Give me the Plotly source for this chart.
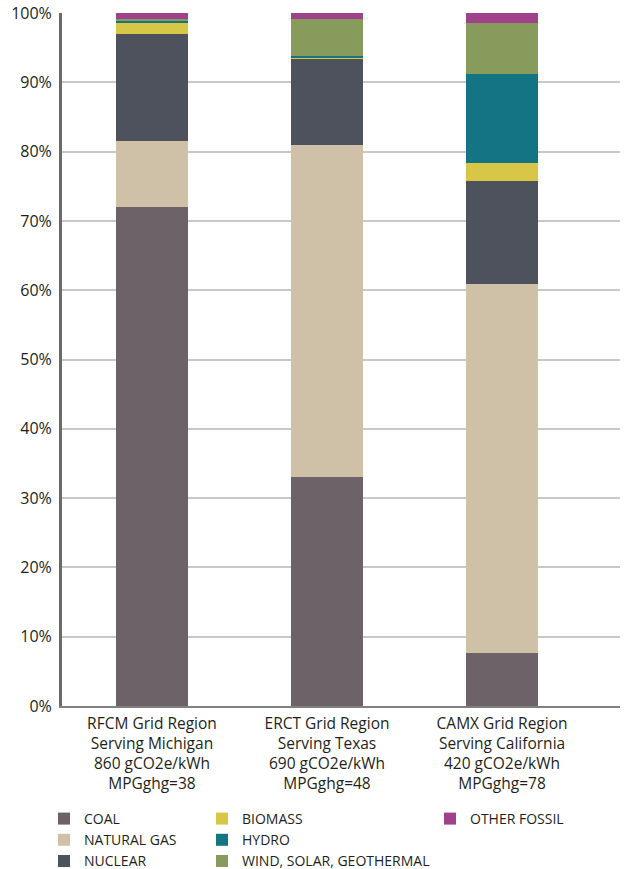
import plotly.graph_objects as go

regions = ["RFCM Grid Region<br>Serving Michigan<br>860 gCO2e/kWh<br>MPGghg=38",
           "ERCT Grid Region<br>Serving Texas<br>690 gCO2e/kWh<br>MPGghg=48",
           "CAMX Grid Region<br>Serving California<br>420 gCO2e/kWh<br>MPGghg=78"]

coal = [72.0, 33.1, 7.6]
natural_gas = [9.6, 47.8, 53.3]
nuclear = [15.4, 12.5, 14.9]
biomass = [1.7, 0.1, 2.6]
hydro = [0.1, 0.3, 12.8]
wind_solar_geo = [0.3, 5.3, 7.4]
other_fossil = [0.9, 0.9, 1.4]

series = [
    ("COAL", coal, "#6e6269", "legend"),
    ("NATURAL GAS", natural_gas, "#cfc1a8", "legend"),
    ("NUCLEAR", nuclear, "#4d525c", "legend"),
    ("BIOMASS", biomass, "#d8c646", "legend2"),
    ("HYDRO", hydro, "#137583", "legend2"),
    ("WIND, SOLAR, GEOTHERMAL", wind_solar_geo, "#869b5c", "legend2"),
    ("OTHER FOSSIL", other_fossil, "#a0418b", "legend3"),
]

fig = go.Figure()
for name, vals, color, lg in series:
    fig.add_trace(go.Bar(x=[0, 1, 2], y=vals, name=name, marker=dict(color=color, line=dict(width=0)),
                         width=0.41, legend=lg))

FONT = "Open Sans, Noto Sans, sans-serif"
W, H = 642, 869
L, R, T, B = 62, 22, 13, 163
pw, ph = W - L - R, H - T - B

def px(xp):
    return (xp - L) / pw

def py(yp):
    return (H - B - yp) / ph

leg_common = dict(font=dict(family=FONT, size=14, color="#231f20"), orientation="v",
                  yanchor="top", xanchor="left",
                  traceorder="normal", itemwidth=30, bgcolor="rgba(0,0,0,0)",
                  tracegroupgap=0, itemclick=False, itemdoubleclick=False)
fig.update_layout(
    barmode="stack",
    width=W, height=H,
    margin=dict(l=L, r=R, t=T, b=B, autoexpand=False),
    paper_bgcolor="white", plot_bgcolor="white",
    font=dict(family=FONT, size=14, color="#231f20"),
    xaxis=dict(tickmode="array", tickvals=[0, 1, 2], ticktext=regions, range=[-0.514, 2.674],
               showline=True, linecolor="#808080", linewidth=2, showgrid=False, zeroline=False,
               ticks="", ticklabelstandoff=2,
               tickfont=dict(size=15.5, family=FONT, color="#231f20")),
    yaxis=dict(range=[0, 100], tickvals=list(range(0, 101, 10)),
               ticktext=[f"{v}%" for v in range(0, 101, 10)],
               showline=True, linecolor="#6a6a6a", linewidth=3, showgrid=True,
               gridcolor="#c8c8c8", gridwidth=1.5, zeroline=False, ticks="",
               ticklabelstandoff=4,
               tickfont=dict(size=16, family=FONT, color="#231f20")),
    legend=dict(x=px(44), y=py(803), **leg_common),
    legend2=dict(x=px(202), y=py(803), **leg_common),
    legend3=dict(x=px(430), y=py(803), **leg_common),
    showlegend=True,
)
fig.write_html("out.html", config={"displayModeBar": False},
               post_script="document.body.style.margin='0';document.body.style.overflow='hidden';")
